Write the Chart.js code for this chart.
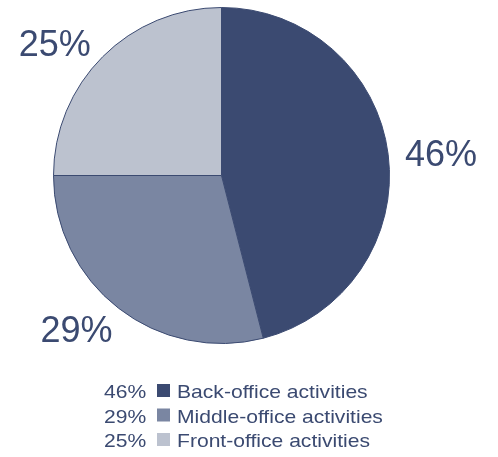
<!DOCTYPE html>
<html>
<head>
<meta charset="utf-8">
<script src="https://cdn.jsdelivr.net/npm/chart.js@4.4.1/dist/chart.umd.min.js"></script>
<style>
  html, body { margin: 0; padding: 0; background: #fff; }
  #wrap { position: relative; width: 498px; height: 457px; }
</style>
</head>
<body>
<div id="wrap"><canvas id="chartPie"></canvas></div>
<script>
// Datos del reparto por tipo de actividad
const categorias = ['Back-office activities', 'Middle-office activities', 'Front-office activities'];
const valores = [46, 29, 25];
const colores = ['#3b4a71', '#7a86a2', '#bcc2cf'];
const colorTexto = '#3b4a71';
const fuente = "'Liberation Sans', Arial, Helvetica, sans-serif";

// Etiquetas de porcentaje fuera de cada sector
const etiquetasFuera = {
    id: 'etiquetasFuera',
    afterDatasetsDraw(chart) {
        const ctx = chart.ctx;
        const meta = chart.getDatasetMeta(0);
        ctx.save();
        ctx.font = '36px ' + fuente;
        ctx.fillStyle = colorTexto;
        ctx.textBaseline = 'middle';
        ctx.textAlign = 'center';
        meta.data.forEach((arc, i) => {
            const ang = (arc.startAngle + arc.endAngle) / 2;
            const dx = Math.cos(ang), dy = Math.sin(ang);
            const d = arc.outerRadius + 17;
            const px = arc.x + dx * d, py = arc.y + dy * d;
            const txt = valores[i] + '%';
            const w = ctx.measureText(txt).width;
            const sx = Math.max(-1, Math.min(1, dx / 0.7));
            const sy = Math.abs(dy) > 0.35 ? Math.sign(dy) : dy / 0.35;
            ctx.fillText(txt, px + sx * w / 2, py + sy * 4.5 + 5.5);
        });
        ctx.restore();
    }
};

// Texto con ligero estiramiento horizontal
function textoAncho(ctx, txt, x, y, esc) {
    ctx.save();
    ctx.translate(x, y);
    ctx.scale(esc, 1);
    ctx.fillText(txt, 0, 0);
    ctx.restore();
}

// Leyenda inferior: porcentaje, cuadro de color y nombre
const leyenda = {
    id: 'leyenda',
    afterDraw(chart) {
        const ctx = chart.ctx;
        ctx.save();
        ctx.font = '18.5px ' + fuente;
        ctx.textBaseline = 'alphabetic';
        ctx.textAlign = 'left';
        const base0 = 398, paso = 24.5;
        categorias.forEach((cat, i) => {
            const y = base0 + i * paso;
            ctx.fillStyle = colorTexto;
            textoAncho(ctx, valores[i] + '%', 104, y, 1.14);
            ctx.fillStyle = colores[i];
            ctx.fillRect(157, y - 14, 13, 13);
            ctx.fillStyle = colorTexto;
            textoAncho(ctx, cat, 177, y, 1.14);
        });
        ctx.restore();
    }
};

new Chart(document.getElementById('chartPie'), {
    type: 'pie',
    data: {
        labels: categorias,
        datasets: [{
            data: valores,
            backgroundColor: colores,
            borderColor: '#3b4a71',
            borderWidth: 1
        }]
    },
    options: {
        responsive: true,
        maintainAspectRatio: false,
        animation: false,
        events: [],
        layout: { padding: { left: 53, right: 108, top: 7, bottom: 113 } },
        plugins: { legend: { display: false }, tooltip: { enabled: false } }
    },
    plugins: [etiquetasFuera, leyenda]
});
</script>
</body>
</html>
